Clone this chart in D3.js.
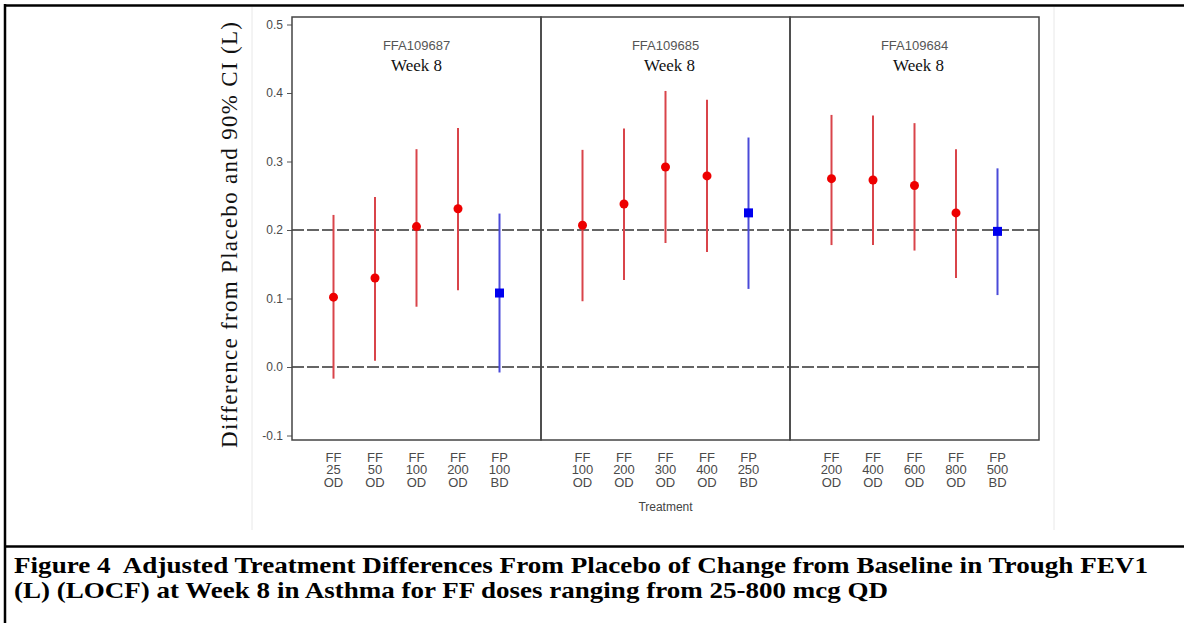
<!DOCTYPE html>
<html>
<head>
<meta charset="utf-8">
<script src="https://cdn.jsdelivr.net/npm/d3@7"></script>
<style>
  html, body { margin: 0; padding: 0; background: #fff; }
  svg { display: block; }
</style>
</head>
<body>
<div id="chart"></div>
<script>
// Study panels and their treatments
const studies = ['FFA109687', 'FFA109685', 'FFA109684'];
const treatmentLabels = [
  ['FF 25 OD', 'FF 50 OD', 'FF 100 OD', 'FF 200 OD', 'FP 100 BD'],
  ['FF 100 OD', 'FF 200 OD', 'FF 300 OD', 'FF 400 OD', 'FP 250 BD'],
  ['FF 200 OD', 'FF 400 OD', 'FF 600 OD', 'FF 800 OD', 'FP 500 BD']
];

// Difference from placebo (L) with 90% CI
const estimates = [
  [0.102, 0.130, 0.205, 0.231, 0.108],
  [0.207, 0.238, 0.292, 0.279, 0.225],
  [0.275, 0.273, 0.265, 0.225, 0.198]
];
const lowerCI = [
  [-0.017, 0.009, 0.088, 0.112, -0.008],
  [0.096, 0.127, 0.181, 0.168, 0.114],
  [0.178, 0.178, 0.170, 0.130, 0.105]
];
const upperCI = [
  [0.222, 0.248, 0.318, 0.349, 0.224],
  [0.317, 0.348, 0.403, 0.390, 0.335],
  [0.368, 0.367, 0.356, 0.318, 0.290]
];

const yTicks = [-0.1, 0.0, 0.1, 0.2, 0.3, 0.4, 0.5];
const refLines = [0.0, 0.2];

const width = 1184;
const height = 623;
const plot = { left: 292, right: 1039, top: 17, bottom: 440 };

const svg = d3.select('#chart')
  .append('svg')
  .attr('width', width)
  .attr('height', height);

// Document frame
svg.append('line')
  .attr('x1', 4).attr('x2', width).attr('y1', 5.5).attr('y2', 5.5)
  .attr('stroke', '#000').attr('stroke-width', 2.5);
svg.append('line')
  .attr('x1', 5).attr('x2', 5).attr('y1', 4).attr('y2', height)
  .attr('stroke', '#000').attr('stroke-width', 2.5);
svg.append('line')
  .attr('x1', 4).attr('x2', width).attr('y1', 546.5).attr('y2', 546.5)
  .attr('stroke', '#000').attr('stroke-width', 2.5);

// Faint edges of the embedded picture
[252, 1054].forEach(x => {
  svg.append('line')
    .attr('x1', x).attr('x2', x).attr('y1', 7).attr('y2', 530)
    .attr('stroke', '#e8e8e8').attr('stroke-width', 1);
});

// Scales
const y = d3.scaleLinear()
  .domain([-0.1, 0.5])
  .range([435.5, 24.5]);

const panel = d3.scaleBand()
  .domain(studies)
  .range([plot.left, plot.right])
  .paddingInner(0)
  .paddingOuter(0);

// Reference lines (dashed)
svg.append('g')
  .selectAll('line')
  .data(refLines)
  .join('line')
  .attr('x1', plot.left)
  .attr('x2', plot.right)
  .attr('y1', d => y(d))
  .attr('y2', d => y(d))
  .attr('stroke', '#333')
  .attr('stroke-width', 1.5)
  .attr('stroke-dasharray', '12,3');

// Y axis
const fmt = d3.format('.1f');
const yAxis = svg.append('g')
  .attr('transform', `translate(${plot.left},0)`)
  .call(d3.axisLeft(y)
    .tickValues(yTicks)
    .tickFormat(d => fmt(d).replace('\u2212', '-'))
    .tickSize(5)
    .tickPadding(4));
yAxis.select('.domain').remove();
yAxis.selectAll('line').attr('stroke', '#555');
yAxis.selectAll('text')
  .attr('fill', '#4a4a4a')
  .style('font', '12px "Liberation Sans", Arial, sans-serif');

// Y axis title
svg.append('text')
  .attr('transform', 'translate(237,235) rotate(-90)')
  .attr('text-anchor', 'middle')
  .attr('textLength', 426)
  .attr('lengthAdjust', 'spacing')
  .style('font', '23px "Liberation Serif", "Times New Roman", serif')
  .attr('fill', '#111')
  .text('Difference from Placebo and 90% CI (L)');

// Panels
studies.forEach((study, s) => {
  const x0 = panel(study);
  const x1 = x0 + panel.bandwidth();
  const cx = x0 + panel.bandwidth() / 2;

  const x = d3.scalePoint()
    .domain(treatmentLabels[s])
    .range([x0, x1])
    .padding(1);

  const g = svg.append('g').attr('class', 'panel');

  // Panel title
  g.append('text')
    .attr('x', cx)
    .attr('y', 50)
    .attr('text-anchor', 'middle')
    .attr('fill', '#555')
    .style('font', '13px "Liberation Sans", Arial, sans-serif')
    .text(study);
  g.append('text')
    .attr('x', cx + (s === 0 ? 0 : 4))
    .attr('y', 71)
    .attr('text-anchor', 'middle')
    .attr('fill', '#111')
    .style('font', '17px "Liberation Serif", "Times New Roman", serif')
    .text('Week 8');

  const rows = treatmentLabels[s].map((t, i) => ({
    label: t,
    est: estimates[s][i],
    lo: lowerCI[s][i],
    hi: upperCI[s][i],
    fp: t.startsWith('FP')
  }));

  // CI bars
  g.selectAll('.ci')
    .data(rows)
    .join('line')
    .attr('class', 'ci')
    .attr('x1', d => x(d.label))
    .attr('x2', d => x(d.label))
    .attr('y1', d => y(d.lo))
    .attr('y2', d => y(d.hi))
    .attr('stroke', d => d.fp ? '#4a4ad8' : '#d9444a')
    .attr('stroke-width', 2);

  // FF estimates: red circles
  g.selectAll('.pt')
    .data(rows.filter(d => !d.fp))
    .join('circle')
    .attr('class', 'pt')
    .attr('cx', d => x(d.label))
    .attr('cy', d => y(d.est))
    .attr('r', 4.5)
    .attr('fill', '#ee0000');

  // FP estimates: blue squares
  g.selectAll('.sq')
    .data(rows.filter(d => d.fp))
    .join('rect')
    .attr('class', 'sq')
    .attr('x', d => x(d.label) - 4.5)
    .attr('y', d => y(d.est) - 4.5)
    .attr('width', 9)
    .attr('height', 9)
    .attr('fill', '#0000ee');

  // Treatment tick labels (three lines each)
  const lbl = g.selectAll('.xl')
    .data(rows)
    .join('text')
    .attr('class', 'xl')
    .attr('text-anchor', 'middle')
    .attr('fill', '#4a4a4a')
    .style('font', '13px "Liberation Sans", Arial, sans-serif');
  lbl.selectAll('tspan')
    .data(d => d.label.split(' ').map(p => ({ p, x: x(d.label) })))
    .join('tspan')
    .attr('x', d => d.x)
    .attr('y', (d, i) => 461.5 + i * 12.8)
    .text(d => d.p);

  // Panel box
  g.append('rect')
    .attr('x', x0)
    .attr('y', plot.top)
    .attr('width', x1 - x0)
    .attr('height', plot.bottom - plot.top)
    .attr('fill', 'none')
    .attr('stroke', '#444')
    .attr('stroke-width', 1.5);
});

// X axis title
svg.append('text')
  .attr('x', panel(studies[1]) + panel.bandwidth() / 2)
  .attr('y', 511)
  .attr('text-anchor', 'middle')
  .attr('fill', '#444')
  .style('font', '12px "Liberation Sans", Arial, sans-serif')
  .text('Treatment');

// Caption
const caption = [
  'Figure 4  Adjusted Treatment Differences From Placebo of Change from Baseline in Trough FEV1',
  '(L) (LOCF) at Week 8 in Asthma for FF doses ranging from 25-800 mcg QD'
];
const captionWidths = [1134, 874];
svg.append('g')
  .selectAll('text')
  .data(caption)
  .join('text')
  .attr('x', 14)
  .attr('y', (d, i) => 573 + i * 25)
  .attr('textLength', (d, i) => captionWidths[i])
  .attr('lengthAdjust', 'spacingAndGlyphs')
  .attr('fill', '#000')
  .style('font', 'bold 23px "Liberation Serif", "Times New Roman", serif')
  .style('white-space', 'pre')
  .text(d => d);
</script>
</body>
</html>
